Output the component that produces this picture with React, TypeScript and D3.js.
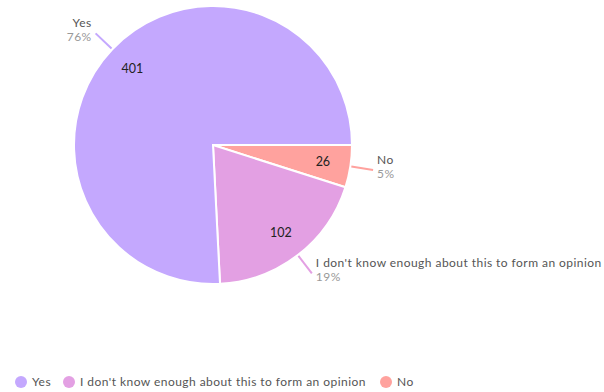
import React from "react";
import * as d3 from "d3";

const categories = ["Yes", "I don't know enough about this to form an opinion", "No"];
const values = [401, 102, 26];
const percentLabels = ["76%", "19%", "5%"];
const colors = ["#c4a8fe", "#e3a0e3", "#ffa29e"];

const W = 604;
const H = 392;
const cx = 213;
const cy = 145;
const R = 139;
const FONT = "Lato, 'Open Sans', sans-serif";

export default function App() {
  const order = [2, 1, 0];
  const pie = d3
    .pie<number>()
    .sort(null)
    .value((i) => values[i])
    .startAngle(Math.PI / 2)
    .endAngle(Math.PI / 2 + 2 * Math.PI);
  const arcs = pie(order);
  const arc = d3.arc<d3.PieArcDatum<number>>().innerRadius(0).outerRadius(R);
  const labelArc = d3.arc<d3.PieArcDatum<number>>().innerRadius(R * 0.8).outerRadius(R * 0.8);

  const legendX = [21, 69, 386];

  return (
    <svg width={W} height={H} style={{ position: "absolute", left: 0, top: 0 }} fontFamily={FONT}>
      <g transform={`translate(${cx},${cy})`}>
        {arcs.map((a) => (
          <path key={a.data} d={arc(a) || ""} fill={colors[a.data]} stroke="#fff" strokeWidth={2} />
        ))}
        {arcs.map((a) => {
          const [x, y] = labelArc.centroid(a);
          return (
            <text key={"v" + a.data} x={x} y={y} textAnchor="middle" dy="0.35em" fontSize={12.5} fill="#222">
              {values[a.data]}
            </text>
          );
        })}
        {arcs.map((a) => {
          const mid = (a.startAngle + a.endAngle) / 2;
          const s = Math.sin(mid);
          const c = -Math.cos(mid);
          const x1 = s * (R + 1);
          const y1 = c * (R + 1);
          const x2 = s * (R + 23);
          const y2 = c * (R + 23);
          const right = s > 0;
          const tx = x2 + (right ? 4 : -4);
          const ty = y2 - 6;
          return (
            <g key={"l" + a.data}>
              <line x1={x1} y1={y1} x2={x2} y2={y2} stroke={colors[a.data]} strokeWidth={2} />
              <text x={tx} y={ty} textAnchor={right ? "start" : "end"} fontSize={12} fill="#555" letterSpacing={0.45}>
                {categories[a.data]}
              </text>
              <text x={tx} y={ty + 14} textAnchor={right ? "start" : "end"} fontSize={12} fill="#999" letterSpacing={0.45}>
                {percentLabels[a.data]}
              </text>
            </g>
          );
        })}
      </g>
      <g>
        {categories.map((cat, i) => (
          <g key={"lg" + i}>
            <circle cx={legendX[i]} cy={382} r={6} fill={colors[i]} />
            <text x={legendX[i] + 11} y={382} dy="0.35em" fontSize={12} fill="#555" letterSpacing={0.45}>
              {cat}
            </text>
          </g>
        ))}
      </g>
    </svg>
  );
}
